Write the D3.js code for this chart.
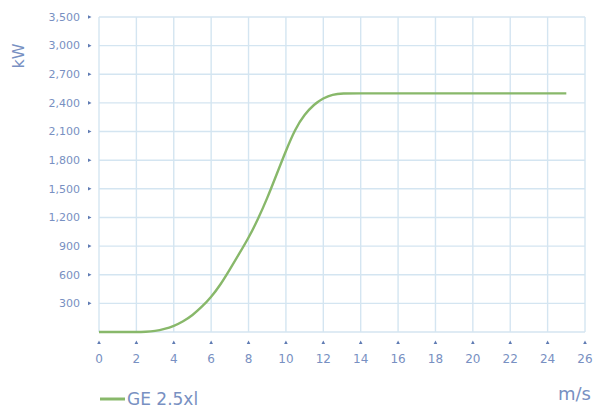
<!DOCTYPE html>
<html><head><meta charset="utf-8">
<script src="https://cdn.jsdelivr.net/npm/d3@7"></script>
<style>body{margin:0;background:#fff}svg{display:block}</style>
</head><body>
<svg id="c" width="593" height="410"></svg>
<script>
const windSpeed = [0,1,2,2.5,3,3.5,4,4.5,5,5.5,6,6.5,7,7.5,8,8.5,9,9.5,10,10.5,11,11.5,12,12.5,13,14,15,16,17,18,19,20,21,22,23,24,25];
const powerKW   = [0,0,0,2,9,30,62,110,175,262,365,495,655,820,985,1180,1400,1650,1900,2130,2280,2385,2450,2490,2500,2500,2500,2500,2500,2500,2500,2500,2500,2500,2500,2500,2500];
const seriesName = "GE 2.5xl";
const yTickValues = [300,600,900,1200,1500,1800,2100,2400,2700,3000,3300];
const yTickLabels = ["300","600","900","1,200","1,500","1,800","2,100","2,400","2,700","3,000","3,500"];
const xTickValues = [0,2,4,6,8,10,12,14,16,18,20,22,24,26];

const svg = d3.select("#c");
const x = d3.scaleLinear().domain([0,26]).range([99,585]);
const y = d3.scaleLinear().domain([0,3300]).range([332,17]);
const textCol = "#7890c2", gridCol = "#d4e5f1", tickCol = "#5f7bb3";
const font = "'DejaVu Sans', sans-serif";

// grid
svg.append("g").selectAll("line").data([0].concat(yTickValues)).join("line")
  .attr("x1", x(0)).attr("x2", x(26)).attr("y1", d=>y(d)).attr("y2", d=>y(d))
  .attr("stroke", gridCol).attr("stroke-width", 1.4);
svg.append("g").selectAll("line").data(xTickValues).join("line")
  .attr("x1", d=>x(d)).attr("x2", d=>x(d)).attr("y1", y(0)).attr("y2", y(3300))
  .attr("stroke", gridCol).attr("stroke-width", 1.4);

// y ticks
const yg = svg.append("g");
yTickValues.forEach((v,i)=>{
  yg.append("path").attr("d", `M${88},${y(v)-1.8}L${91.5},${y(v)}L${88},${y(v)+1.8}Z`).attr("fill", tickCol);
  yg.append("text").attr("x", 80).attr("y", y(v)).attr("dy","0.35em").attr("text-anchor","end")
    .attr("font-family", font).attr("font-size", 11).attr("fill", textCol).text(yTickLabels[i]);
});
// x ticks
const xg = svg.append("g");
xTickValues.forEach(v=>{
  xg.append("path").attr("d", `M${x(v)-1.8},${344}L${x(v)},${340.5}L${x(v)+1.8},${344}Z`).attr("fill", tickCol);
  xg.append("text").attr("x", x(v)).attr("y", 363).attr("text-anchor","middle")
    .attr("font-family", font).attr("font-size", 12).attr("fill", textCol).text(v);
});

// line
const pts = windSpeed.map((w,i)=>[w, powerKW[i]]);
svg.append("path").datum(pts)
  .attr("d", d3.line().x(d=>x(d[0])).y(d=>y(d[1])).curve(d3.curveBasis))
  .attr("fill","none").attr("stroke","#88b86a").attr("stroke-width",2.4);

// axis titles
svg.append("text").attr("transform","translate(24,56) rotate(-90)").attr("text-anchor","middle")
  .attr("font-family", font).attr("font-size", 16).attr("fill", textCol).text("kW");
svg.append("text").attr("x", 591).attr("y", 400).attr("text-anchor","end")
  .attr("font-family", font).attr("font-size", 18).attr("fill", textCol).text("m/s");

// legend
svg.append("line").attr("x1",100).attr("x2",125).attr("y1",399).attr("y2",399)
  .attr("stroke","#88b86a").attr("stroke-width",3);
svg.append("text").attr("x",127).attr("y",405)
  .attr("font-family", font).attr("font-size", 17).attr("fill", textCol).text(seriesName);
</script>
</body></html>
